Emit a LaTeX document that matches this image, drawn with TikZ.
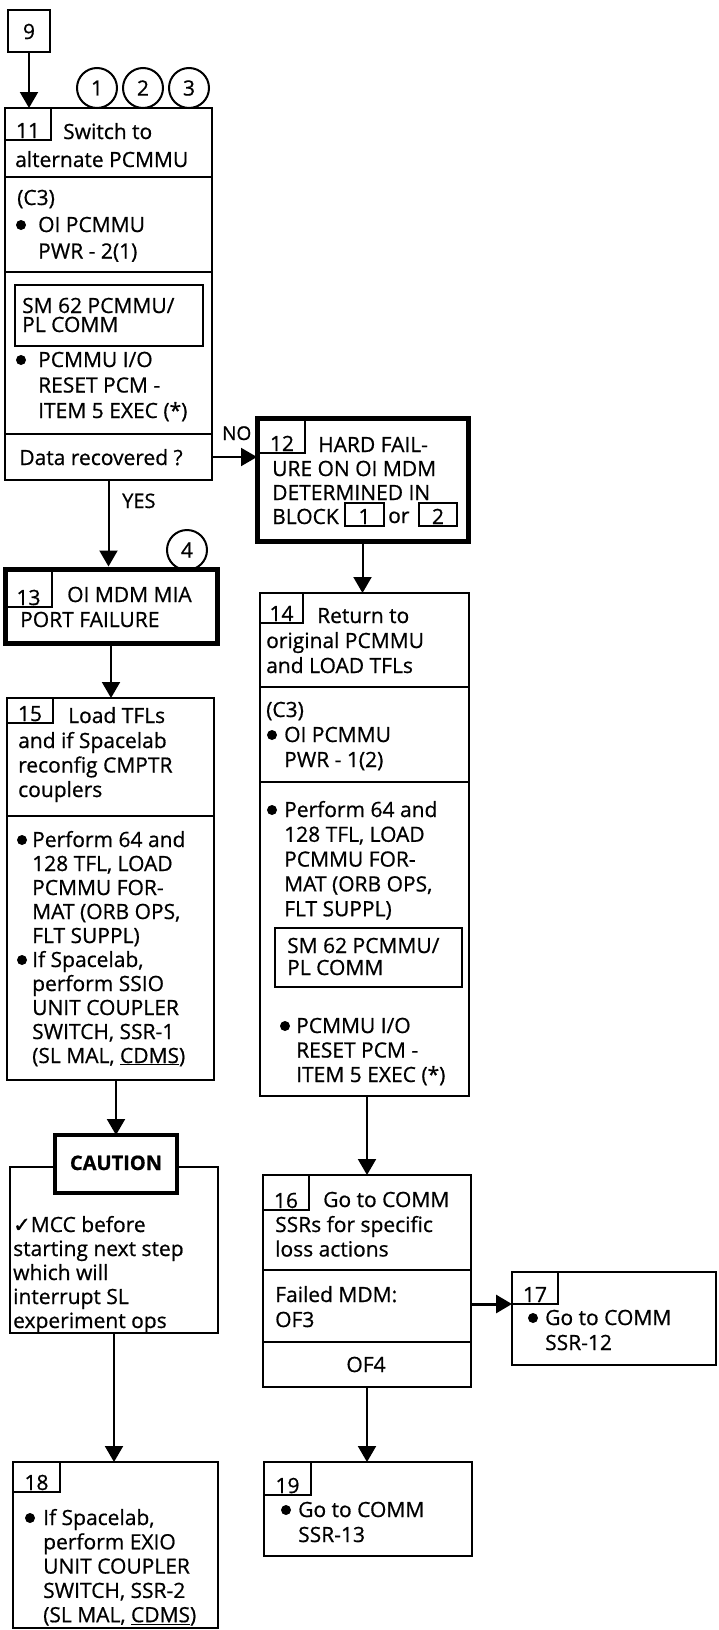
\documentclass[tikz,border=0pt]{standalone}
\usepackage{fontspec}
\setmainfont{Open Sans}[FakeBold=0.7]
\newfontfamily\djv{DejaVu Sans}[FakeBold=1.2]
\usetikzlibrary{arrows.meta}
\newcommand\ML[2][25]{\vtop{\baselineskip=#1pt\lineskiplimit=-\maxdimen\let\\\cr\halign{##\hfil\cr#2\crcr}}}
\newcommand\mkbox[6]{\node[#2, minimum width={(#5-#3)*1pt}, minimum height={(#6-#4)*1pt}] (#1) at (#3,#4) {};}
\newcommand\bul[2]{\fill (#1,#2) circle (5pt);}
\tikzset{
 bx/.style={draw, line width=2pt, rectangle, inner sep=0pt, outer sep=0pt, anchor=north west},
 thk/.style={bx, line width=5pt},
 ln/.style={line width=2pt},
 arr/.style={line width=2pt, -{Triangle[width=18pt,length=16pt]}},
 txt/.style={anchor=base west, inner sep=0pt, font=\fontsize{21}{25}\selectfont},
 ctxt/.style={txt, anchor=base},
 circ/.style={draw, circle, line width=2pt, minimum size=40pt, inner sep=0pt, font=\fontsize{21}{25}\selectfont},
}
\begin{document}
\begin{tikzpicture}[x=1pt,y=-1pt]
\fill[white] (0,0) rectangle (718,1630);
\useasboundingbox (0,0) rectangle (718,1630);

% box 9
\mkbox{b9}{bx}{8}{10}{50}{52}
\node[ctxt] (t9) at (29,39) {9};

% circles
\node[circ] (c1) at (97,88) {1};
\node[circ] (c2) at (143,88) {2};
\node[circ] (c3) at (189,88) {3};

% box 11
\mkbox{b11}{bx}{5}{108}{212}{480}
\mkbox{n11}{bx}{5}{108}{51}{140}
\node[ctxt] (n11t) at (28,138) {11};
\node[txt] (t11a) at (63,139) {Switch to};
\node[txt] (t11b) at (15,167) {alternate PCMMU};
\draw[ln] (5,177) -- (212,177);
\node[txt] (t11c) at (17,205) {(C3)};
\bul{21}{225}
\node[txt] (t11d) at (38,232) {\ML[26.5]{OI PCMMU\\PWR - 2(1)}};
\draw[ln] (5,272) -- (212,272);
\mkbox{s11}{bx}{15}{285}{203}{346}
\node[txt] (t11e) at (22,313) {\ML[19]{SM 62 PCMMU/\\PL COMM}};
\bul{21}{360}
\node[txt] (t11f) at (38,367) {\ML[25.5]{PCMMU I/O\\RESET PCM -\\ITEM 5 EXEC (*)}};
\draw[ln] (5,434) -- (212,434);
\node[ctxt] (t11g) at (101,465) {Data recovered ?};

% box 12
\mkbox{b12}{thk}{257}{418}{468}{541}
\mkbox{n12}{bx}{257}{418}{305}{453}
\node[ctxt] (n12t) at (282,451) {12};
\node[txt] (t12a) at (318,452) {HARD FAIL-};
\node[txt] (t12b) at (272,476) {\ML[24]{URE ON OI MDM\\DETERMINED IN\\BLOCK}};
\mkbox{k1}{bx}{345}{503}{384}{526}
\node[ctxt] (k1t) at (364.5,524) {1};
\node[txt] (t12c) at (388,523) {or};
\mkbox{k2}{bx}{419}{503}{457}{526}
\node[ctxt] (k2t) at (438,524) {2};

% box 13
\node[circ] (c4) at (187,550) {4};
\mkbox{b13}{thk}{5}{569}{217}{643}
\mkbox{n13}{bx}{5}{569}{52}{607}
\node[ctxt] (n13t) at (28.5,605) {13};
\node[txt] (t13a) at (67,602) {OI MDM MIA};
\node[txt] (t13b) at (20,627) {PORT FAILURE};

% box 14
\mkbox{b14}{bx}{260}{593}{469}{1096}
\mkbox{n14}{bx}{260}{593}{303}{623}
\node[ctxt] (n14t) at (281.5,621) {14};
\node[txt] (t14a) at (317,623) {Return to};
\node[txt] (t14b) at (266,648) {\ML[25]{original PCMMU\\and LOAD TFLs}};
\draw[ln] (260,687) -- (469,687);
\node[txt] (t14c) at (266,717) {(C3)};
\bul{272}{735}
\node[txt] (t14d) at (284,742) {\ML[25]{OI PCMMU\\PWR - 1(2)}};
\draw[ln] (260,782) -- (469,782);
\bul{272}{810}
\node[txt] (t14e) at (284,817) {\ML[24.8]{Perform 64 and\\128 TFL, LOAD\\PCMMU FOR-\\MAT (ORB OPS,\\FLT SUPPL)}};
\mkbox{s14}{bx}{275}{928}{462}{987}
\node[txt] (t14f) at (287,953) {\ML[22]{SM 62 PCMMU/\\PL COMM}};
\bul{285}{1026}
\node[txt] (t14g) at (296,1033) {\ML[24.5]{PCMMU I/O\\RESET PCM -\\ITEM 5 EXEC (*)}};

% box 15
\mkbox{b15}{bx}{7}{698}{214}{1080}
\mkbox{n15}{bx}{7}{698}{53}{723}
\node[ctxt] (n15t) at (30,721) {15};
\node[txt] (t15a) at (68,723) {Load TFLs};
\node[txt] (t15b) at (18,748) {\ML[24.5]{and if Spacelab\\reconfig CMPTR\\couplers}};
\draw[ln] (7,816) -- (214,816);
\bul{22}{840}
\node[txt] (t15c) at (32,847) {\ML[24]{Perform 64 and\\128 TFL, LOAD\\PCMMU FOR-\\MAT (ORB OPS,\\FLT SUPPL)}};
\bul{22}{960}
\node[txt] (t15d) at (32,967) {\ML[24]{If Spacelab,\\perform SSIO\\UNIT COUPLER\\SWITCH, SSR-1\\(SL MAL, \underline{CDMS})}};

% caution
\mkbox{cm}{bx}{10}{1167}{218}{1333}
\mkbox{cl}{bx, line width=3.5pt, fill=white}{55}{1135}{177}{1193}
\node[ctxt, font=\fontsize{20}{24}\selectfont\bfseries] (clt) at (116,1170) {CAUTION};
\node[txt] (t16a) at (13,1232) {\ML[24]{{\djv\fontsize{21}{24}\selectfont ✓}MCC before\\starting next step\\which will\\interrupt SL\\experiment ops}};

% box 18
\mkbox{b18}{bx}{13}{1462}{218}{1628}
\mkbox{n18}{bx}{13}{1462}{60}{1492}
\node[ctxt] (n18t) at (36.5,1490) {18};
\bul{30}{1518}
\node[txt] (t18a) at (43,1525) {\ML[24.3]{If Spacelab,\\perform EXIO\\UNIT COUPLER\\SWITCH, SSR-2\\(SL MAL, \underline{CDMS})}};

% box 16
\mkbox{b16}{bx}{263}{1175}{471}{1387}
\mkbox{n16}{bx}{263}{1175}{309}{1210}
\node[ctxt] (n16t) at (286,1208) {16};
\node[txt] (t16b) at (323,1207) {Go to COMM};
\node[txt] (t16c) at (275,1232) {\ML[24.5]{SSRs for specific\\loss actions}};
\draw[ln] (263,1270) -- (471,1270);
\node[txt] (t16d) at (275,1302) {\ML[25]{Failed MDM:\\OF3}};
\draw[ln] (263,1342) -- (471,1342);
\node[ctxt] (t16e) at (366,1372) {OF4};

% box 17
\mkbox{b17}{bx}{512}{1272}{716}{1365}
\mkbox{n17}{bx}{512}{1272}{558}{1304}
\node[ctxt] (n17t) at (535,1302) {17};
\bul{533}{1318}
\node[txt] (t17a) at (545,1325) {\ML[25]{Go to COMM\\SSR-12}};

% box 19
\mkbox{b19}{bx}{264}{1462}{472}{1556}
\mkbox{n19}{bx}{264}{1462}{311}{1495}
\node[ctxt] (n19t) at (287.5,1493) {19};
\bul{286}{1510}
\node[txt] (t19a) at (298,1517) {\ML[25]{Go to COMM\\SSR-13}};

% connectors
\coordinate (yno) at (0,457);
\coordinate (y17) at (0,1304);
\draw[arr] (b9.south) -- (b9.south |- b11.north);
\draw[arr] (b11.east |- yno) -- (b12.west |- yno);
\node[txt, font=\fontsize{19}{23}\selectfont] (lno) at (222,440) {NO};
\draw[arr, shorten >=2.5pt] (b11.south) -- (b11.south |- b13.north);
\node[txt, font=\fontsize{20}{24}\selectfont] (lyes) at (122,508) {YES};
\draw[arr] (b12.south) -- (b12.south |- b14.north);
\draw[arr] (b13.south) -- (b13.south |- b15.north);
\draw[arr] (cl.north |- b15.south) -- (cl.north);
\draw[arr] (cm.south) -- (cm.south |- b18.north);
\draw[arr] (b16.north |- b14.south) -- (b16.north);
\draw[arr, line width=3pt] (b16.east |- y17) -- (b17.west |- y17);
\draw[arr] (b16.south) -- (b16.south |- b19.north);
\end{tikzpicture}
\end{document}
